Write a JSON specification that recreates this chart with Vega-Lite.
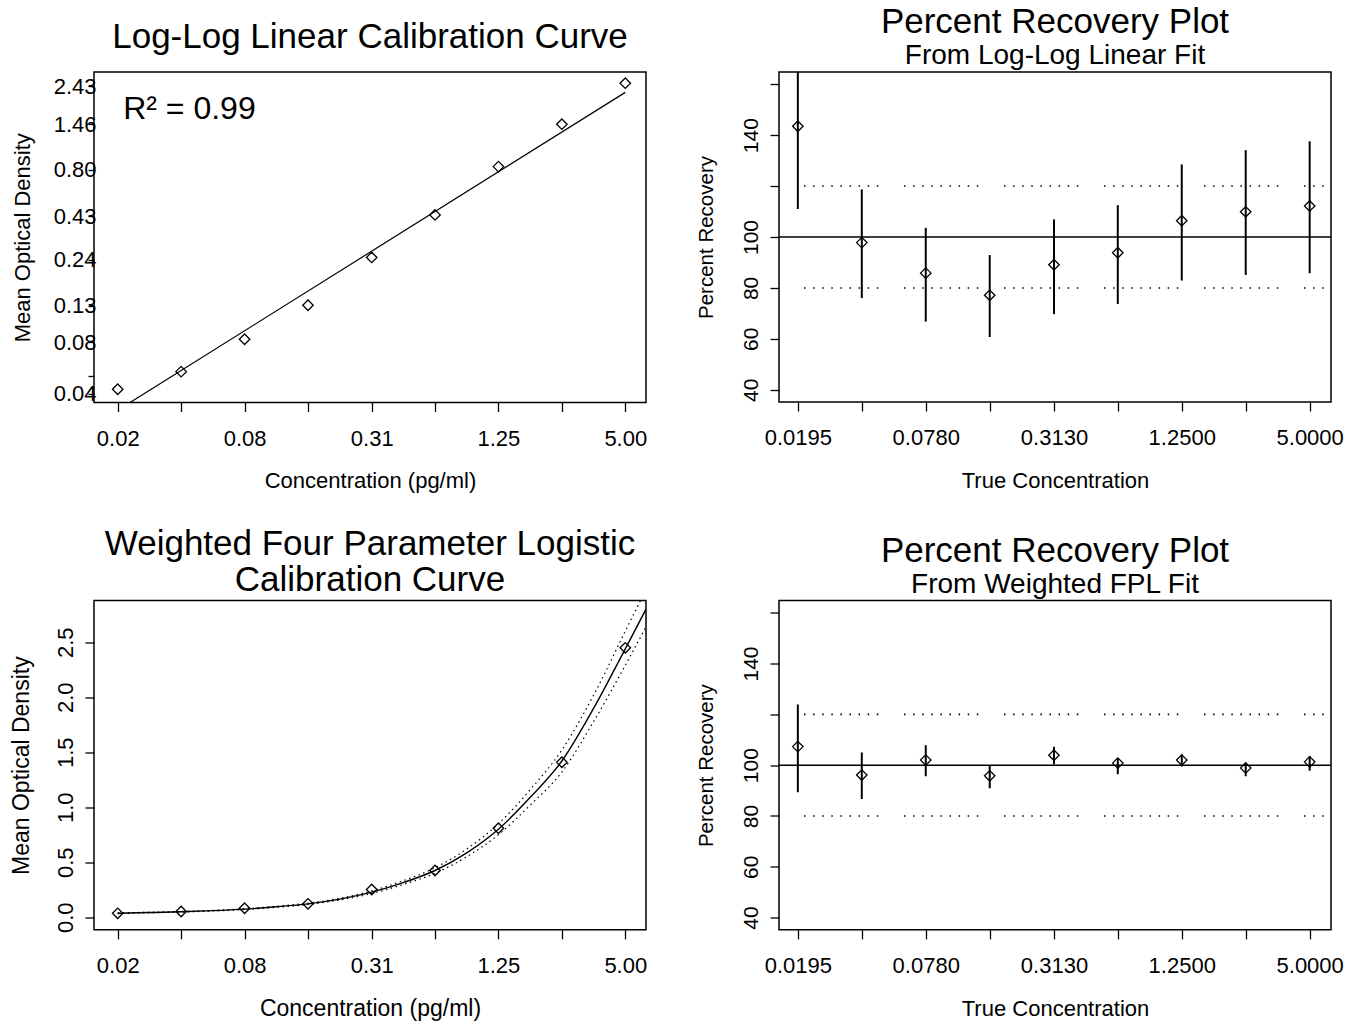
{
  "$schema": "https://vega.github.io/schema/vega-lite/v6.json",
  "background": "white",
  "padding": {"left": 9, "top": 4, "right": 5, "bottom": 0},
  "columns": 2,
  "spacing": {"row": 197.5, "column": 133},
  "bounds": "flush",
  "config": {
    "font": "Liberation Sans",
    "view": {"stroke": "black", "strokeWidth": 1.5},
    "scale": {"zero": false},
    "axis": {"domain": false, "grid": false, "ticks": true, "tickColor": "black", "tickWidth": 1.3, "tickSize": 9,
      "labelColor": "black", "titleColor": "black", "labelFont": "Liberation Sans", "titleFont": "Liberation Sans",
      "labelFontSize": 22, "titleFontSize": 22, "titleFontWeight": "normal", "labelOverlap": false, "labelFlush": false, "labelBound": false},
    "title": {"font": "Liberation Sans", "fontSize": 35, "fontWeight": "normal", "color": "black",
      "subtitleFont": "Liberation Sans", "subtitleFontSize": 28, "subtitleColor": "black", "anchor": "middle", "frame": "group", "subtitlePadding": 2}
  },
  "datasets": {
    "loglog": [
      {"conc": 0.0195, "od": 0.0426}, {"conc": 0.039, "od": 0.0539}, {"conc": 0.078, "od": 0.083},
      {"conc": 0.156, "od": 0.1307}, {"conc": 0.313, "od": 0.2475}, {"conc": 0.625, "od": 0.4365},
      {"conc": 1.25, "od": 0.8317}, {"conc": 2.5, "od": 1.465}, {"conc": 5, "od": 2.532}
    ],
    "loglog_fit": [{"conc": 0.0195, "od": 0.0322}, {"conc": 5, "od": 2.24}],
    "fpl": [
      {"conc": 0.0195, "od": 0.036}, {"conc": 0.039, "od": 0.052}, {"conc": 0.078, "od": 0.082},
      {"conc": 0.156, "od": 0.122}, {"conc": 0.313, "od": 0.252}, {"conc": 0.625, "od": 0.425},
      {"conc": 1.25, "od": 0.809}, {"conc": 2.5, "od": 1.409}, {"conc": 5, "od": 2.449}
    ],
    "fpl_curve": [
      {"conc": 0.0195, "fit": 0.036, "upper": 0.039, "lower": 0.033},
      {"conc": 0.0276, "fit": 0.043, "upper": 0.046, "lower": 0.040},
      {"conc": 0.039, "fit": 0.050, "upper": 0.053, "lower": 0.047},
      {"conc": 0.0552, "fit": 0.060, "upper": 0.063, "lower": 0.057},
      {"conc": 0.078, "fit": 0.074, "upper": 0.078, "lower": 0.070},
      {"conc": 0.11, "fit": 0.095, "upper": 0.100, "lower": 0.090},
      {"conc": 0.156, "fit": 0.122, "upper": 0.128, "lower": 0.116},
      {"conc": 0.221, "fit": 0.165, "upper": 0.173, "lower": 0.157},
      {"conc": 0.313, "fit": 0.228, "upper": 0.240, "lower": 0.216},
      {"conc": 0.442, "fit": 0.315, "upper": 0.332, "lower": 0.298},
      {"conc": 0.625, "fit": 0.425, "upper": 0.450, "lower": 0.400},
      {"conc": 0.884, "fit": 0.585, "upper": 0.620, "lower": 0.550},
      {"conc": 1.25, "fit": 0.800, "upper": 0.850, "lower": 0.750},
      {"conc": 1.77, "fit": 1.090, "upper": 1.160, "lower": 1.020},
      {"conc": 2.5, "fit": 1.420, "upper": 1.520, "lower": 1.320},
      {"conc": 3.54, "fit": 1.900, "upper": 2.020, "lower": 1.780},
      {"conc": 5, "fit": 2.440, "upper": 2.600, "lower": 2.290},
      {"conc": 6.27, "fit": 2.800, "upper": 2.980, "lower": 2.640}
    ],
    "rec_ll": [
      {"conc": 0.0195, "rec": 143.5, "lo": 111.0, "hi": 176.0},
      {"conc": 0.039, "rec": 97.8, "lo": 76.0, "hi": 118.7},
      {"conc": 0.078, "rec": 85.8, "lo": 66.8, "hi": 103.6},
      {"conc": 0.156, "rec": 77.1, "lo": 60.7, "hi": 92.9},
      {"conc": 0.313, "rec": 89.1, "lo": 69.7, "hi": 106.9},
      {"conc": 0.625, "rec": 93.8, "lo": 73.7, "hi": 112.5},
      {"conc": 1.25, "rec": 106.4, "lo": 82.9, "hi": 128.5},
      {"conc": 2.5, "rec": 109.9, "lo": 85.1, "hi": 134.1},
      {"conc": 5, "rec": 112.2, "lo": 85.8, "hi": 137.6}
    ],
    "rec_fpl": [
      {"conc": 0.0195, "rec": 107.3, "lo": 89.3, "hi": 123.9},
      {"conc": 0.039, "rec": 96.1, "lo": 86.7, "hi": 105.0},
      {"conc": 0.078, "rec": 102.0, "lo": 95.6, "hi": 107.8},
      {"conc": 0.156, "rec": 95.8, "lo": 90.9, "hi": 99.7},
      {"conc": 0.313, "rec": 103.9, "lo": 100.4, "hi": 107.2},
      {"conc": 0.625, "rec": 100.8, "lo": 96.4, "hi": 102.7},
      {"conc": 1.25, "rec": 102.0, "lo": 99.5, "hi": 104.3},
      {"conc": 2.5, "rec": 98.9, "lo": 95.6, "hi": 100.8},
      {"conc": 5, "rec": 101.3, "lo": 97.8, "hi": 103.6}
    ],
    "limits": [{"lim": 80}, {"lim": 120}],
    "target": [{"ref": 100}],
    "annot": [{"label": "R² = 0.99"}]
  },
  "concat": [
    {
      "width": 552, "height": 330.5,
      "title": {"text": "Log-Log Linear Calibration Curve", "offset": 17},
      "layer": [
        {
          "data": {"name": "loglog_fit"},
          "mark": {"type": "line", "color": "black", "strokeWidth": 1.2, "clip": true},
          "encoding": {
            "x": {"field": "conc", "type": "quantitative", "scale": {"type": "log", "domain": [0.01505, 6.27], "nice": false},
              "axis": {"values": [0.0195, 0.039, 0.078, 0.156, 0.313, 0.625, 1.25, 2.5, 5],
                "labelExpr": "indexof([0.0195,0.078,0.313,1.25,5], datum.value) >= 0 ? format(datum.value, '.2f') : ''",
                "title": "Concentration (pg/ml)", "labelPadding": 26.5, "labelBaseline": "middle", "titleY": 78, "titleBaseline": "middle"}},
            "y": {"field": "od", "type": "quantitative", "scale": {"type": "log", "domain": [0.0357, 2.94], "nice": false},
              "axis": {"values": [0.04, 0.0509, 0.08, 0.13, 0.24, 0.43, 0.8, 1.46, 2.43],
                "labelExpr": "datum.value == 0.0509 ? '' : format(datum.value, '.2f')",
                "title": "Mean Optical Density", "tickSize": 6, "labelPadding": -8, "labelAlign": "right", "labelBaseline": "middle",
                "titleX": -72, "titleBaseline": "middle"}}
          }
        },
        {
          "data": {"name": "loglog"},
          "mark": {"type": "point", "shape": "diamond", "size": 110, "filled": false, "color": "black", "strokeWidth": 1.3, "opacity": 1},
          "encoding": {"x": {"field": "conc", "type": "quantitative"}, "y": {"field": "od", "type": "quantitative"}}
        },
        {
          "data": {"name": "annot"},
          "mark": {"type": "text", "fontSize": 32, "align": "left", "baseline": "alphabetic", "color": "black", "font": "Liberation Sans"},
          "encoding": {"x": {"datum": 0.0207, "type": "quantitative"}, "y": {"datum": 1.57, "type": "quantitative"}, "text": {"field": "label"}}
        }
      ]
    },
    {
      "width": 552, "height": 330,
      "title": {"text": "Percent Recovery Plot", "subtitle": "From Log-Log Linear Fit", "offset": 2},
      "layer": [
        {
          "data": {"name": "limits"},
          "mark": {"type": "rule", "color": "black", "strokeWidth": 1.6,
            "strokeDash": [1.5, 7.6, 1.5, 7.6, 1.5, 7.6, 1.5, 7.6, 1.5, 7.6, 1.5, 7.6, 1.5, 7.6, 1.5, 7.6, 1.5, 25.7], "strokeDashOffset": 75},
          "encoding": {
            "x": {"datum": 0.0159, "type": "quantitative", "scale": {"type": "log", "domain": [0.0159, 6.3], "nice": false},
              "axis": {"values": [0.0195, 0.039, 0.078, 0.156, 0.313, 0.625, 1.25, 2.5, 5],
                "labelExpr": "indexof([0.0195,0.078,0.313,1.25,5], datum.value) >= 0 ? format(datum.value, '.4f') : ''",
                "title": "True Concentration", "labelPadding": 26.5, "labelBaseline": "middle", "titleY": 78, "titleBaseline": "middle"}},
            "x2": {"datum": 6.3},
            "y": {"field": "lim", "type": "quantitative", "scale": {"domain": [35.2, 164.8], "nice": false},
              "axis": {"values": [40, 60, 80, 100, 120, 140, 160],
                "labelExpr": "datum.value == 120 || datum.value == 160 ? '' : datum.label",
                "title": "Percent Recovery", "titleFontSize": 20.5, "labelFontSize": 21, "labelAngle": 270, "labelAlign": "center", "labelBaseline": "middle", "labelPadding": 19,
                "titleX": -73, "titleBaseline": "middle"}}
          }
        },
        {
          "data": {"name": "target"},
          "mark": {"type": "rule", "color": "black", "strokeWidth": 1.5},
          "encoding": {"y": {"field": "ref", "type": "quantitative"}}
        },
        {
          "data": {"name": "rec_ll"},
          "mark": {"type": "rule", "color": "black", "strokeWidth": 2, "clip": true},
          "encoding": {"x": {"field": "conc", "type": "quantitative"}, "y": {"field": "lo", "type": "quantitative"}, "y2": {"field": "hi"}}
        },
        {
          "data": {"name": "rec_ll"},
          "mark": {"type": "point", "shape": "diamond", "size": 110, "filled": false, "color": "black", "strokeWidth": 1.3, "opacity": 1},
          "encoding": {"x": {"field": "conc", "type": "quantitative"}, "y": {"field": "rec", "type": "quantitative"}}
        }
      ]
    },
    {
      "width": 552, "height": 329.3,
      "title": {"text": ["Weighted Four Parameter Logistic", "Calibration Curve"], "lineHeight": 36, "offset": 3},
      "layer": [
        {
          "data": {"name": "fpl_curve"},
          "mark": {"type": "line", "color": "black", "strokeWidth": 1.2, "strokeDash": [1.5, 3.5], "interpolate": "monotone", "clip": true},
          "encoding": {
            "x": {"field": "conc", "type": "quantitative", "scale": {"type": "log", "domain": [0.01505, 6.27], "nice": false},
              "axis": {"values": [0.0195, 0.039, 0.078, 0.156, 0.313, 0.625, 1.25, 2.5, 5],
                "labelExpr": "indexof([0.0195,0.078,0.313,1.25,5], datum.value) >= 0 ? format(datum.value, '.2f') : ''",
                "title": "Concentration (pg/ml)", "titleFontSize": 23, "labelPadding": 27, "labelBaseline": "middle", "titleY": 79, "titleBaseline": "middle"}},
            "y": {"field": "upper", "type": "quantitative", "scale": {"domain": [-0.114, 2.879], "nice": false},
              "axis": {"values": [0, 0.5, 1, 1.5, 2, 2.5], "format": ".1f",
                "title": "Mean Optical Density", "titleFontSize": 23, "labelAngle": 270, "labelAlign": "center", "labelBaseline": "middle", "labelPadding": 20,
                "titleX": -73, "titleBaseline": "middle"}}
          }
        },
        {
          "data": {"name": "fpl_curve"},
          "mark": {"type": "line", "color": "black", "strokeWidth": 1.2, "strokeDash": [1.5, 3.5], "interpolate": "monotone", "clip": true},
          "encoding": {"x": {"field": "conc", "type": "quantitative"}, "y": {"field": "lower", "type": "quantitative"}}
        },
        {
          "data": {"name": "fpl_curve"},
          "mark": {"type": "line", "color": "black", "strokeWidth": 1.4, "interpolate": "monotone", "clip": true},
          "encoding": {"x": {"field": "conc", "type": "quantitative"}, "y": {"field": "fit", "type": "quantitative"}}
        },
        {
          "data": {"name": "fpl"},
          "mark": {"type": "point", "shape": "diamond", "size": 110, "filled": false, "color": "black", "strokeWidth": 1.3, "opacity": 1},
          "encoding": {"x": {"field": "conc", "type": "quantitative"}, "y": {"field": "od", "type": "quantitative"}}
        }
      ]
    },
    {
      "width": 552, "height": 329.3,
      "title": {"text": "Percent Recovery Plot", "subtitle": "From Weighted FPL Fit", "offset": 2},
      "layer": [
        {
          "data": {"name": "limits"},
          "mark": {"type": "rule", "color": "black", "strokeWidth": 1.6,
            "strokeDash": [1.5, 7.6, 1.5, 7.6, 1.5, 7.6, 1.5, 7.6, 1.5, 7.6, 1.5, 7.6, 1.5, 7.6, 1.5, 7.6, 1.5, 25.7], "strokeDashOffset": 75},
          "encoding": {
            "x": {"datum": 0.0159, "type": "quantitative", "scale": {"type": "log", "domain": [0.0159, 6.3], "nice": false},
              "axis": {"values": [0.0195, 0.039, 0.078, 0.156, 0.313, 0.625, 1.25, 2.5, 5],
                "labelExpr": "indexof([0.0195,0.078,0.313,1.25,5], datum.value) >= 0 ? format(datum.value, '.4f') : ''",
                "title": "True Concentration", "labelPadding": 27, "labelBaseline": "middle", "titleY": 79, "titleBaseline": "middle"}},
            "x2": {"datum": 6.3},
            "y": {"field": "lim", "type": "quantitative", "scale": {"domain": [35.2, 164.8], "nice": false},
              "axis": {"values": [40, 60, 80, 100, 120, 140, 160],
                "labelExpr": "datum.value == 120 || datum.value == 160 ? '' : datum.label",
                "title": "Percent Recovery", "titleFontSize": 20.5, "labelFontSize": 21, "labelAngle": 270, "labelAlign": "center", "labelBaseline": "middle", "labelPadding": 19,
                "titleX": -73, "titleBaseline": "middle"}}
          }
        },
        {
          "data": {"name": "target"},
          "mark": {"type": "rule", "color": "black", "strokeWidth": 1.5},
          "encoding": {"y": {"field": "ref", "type": "quantitative"}}
        },
        {
          "data": {"name": "rec_fpl"},
          "mark": {"type": "rule", "color": "black", "strokeWidth": 2, "clip": true},
          "encoding": {"x": {"field": "conc", "type": "quantitative"}, "y": {"field": "lo", "type": "quantitative"}, "y2": {"field": "hi"}}
        },
        {
          "data": {"name": "rec_fpl"},
          "mark": {"type": "point", "shape": "diamond", "size": 110, "filled": false, "color": "black", "strokeWidth": 1.3, "opacity": 1},
          "encoding": {"x": {"field": "conc", "type": "quantitative"}, "y": {"field": "rec", "type": "quantitative"}}
        }
      ]
    }
  ]
}
